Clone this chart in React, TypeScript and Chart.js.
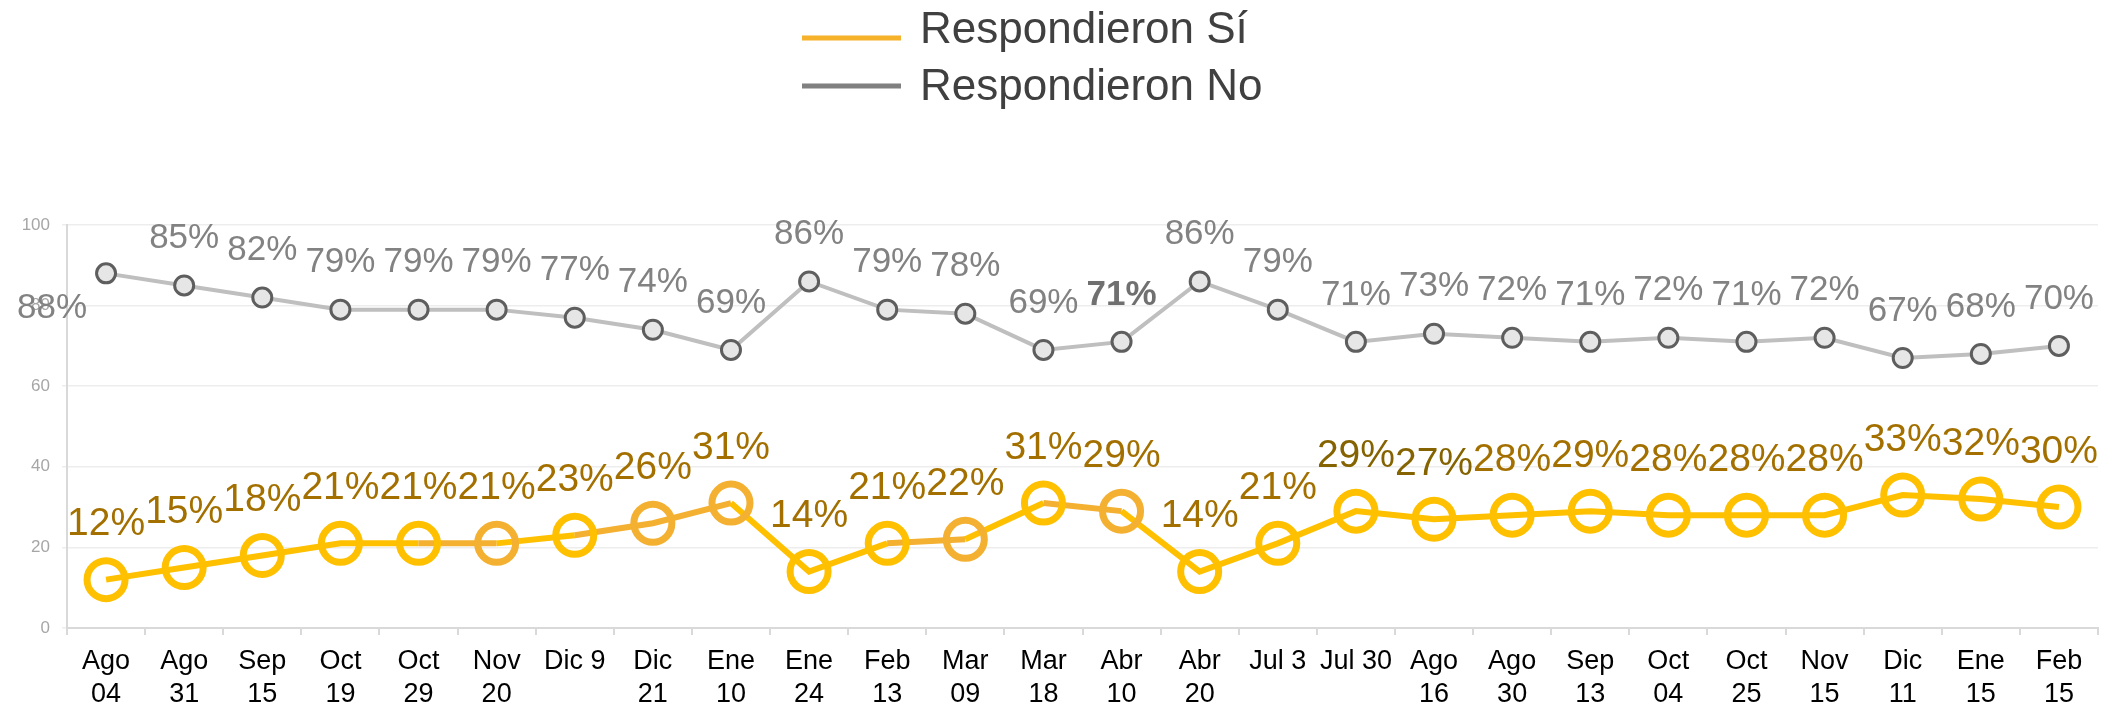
import React, { useEffect, useRef } from 'react';
import { Chart, registerables } from 'chart.js';

Chart.register(...registerables);

const categories: string[][] = [
  ['Ago', '04'], ['Ago', '31'], ['Sep', '15'], ['Oct', '19'], ['Oct', '29'], ['Nov', '20'],
  ['Dic 9'], ['Dic', '21'], ['Ene', '10'], ['Ene', '24'], ['Feb', '13'], ['Mar', '09'],
  ['Mar', '18'], ['Abr', '10'], ['Abr', '20'], ['Jul 3'], ['Jul 30'], ['Ago', '16'],
  ['Ago', '30'], ['Sep', '13'], ['Oct', '04'], ['Oct', '25'], ['Nov', '15'], ['Dic', '11'],
  ['Ene', '15'], ['Feb', '15'],
];

const seriesSi: number[] = [12, 15, 18, 21, 21, 21, 23, 26, 31, 14, 21, 22, 31, 29, 14, 21, 29, 27, 28, 29, 28, 28, 28, 33, 32, 30];
const seriesNo: number[] = [88, 85, 82, 79, 79, 79, 77, 74, 69, 86, 79, 78, 69, 71, 86, 79, 71, 73, 72, 71, 72, 71, 72, 67, 68, 70];

const seriesLabels: string[] = ['Respondieron Sí', 'Respondieron No'];
const yTickValues: number[] = [0, 20, 40, 60, 80, 100];

// styling
const YELLOW = '#FFC000';
const ORANGE = '#F4B030';
const siHighlighted = [5, 7, 8, 11, 13];
const FONT = '"Liberation Sans", Arial, sans-serif';
const NARROW = '"Liberation Sans Narrow", "Arial Narrow", "Liberation Sans", Arial, sans-serif';

const legendPlugin = {
  id: 'customLegend',
  afterDraw(chart: any) {
    const ctx = chart.ctx;
    const rows = [
      { lineY: 38, baseY: 43, color: '#F5B22A' },
      { lineY: 86, baseY: 100, color: '#808080' },
    ];
    chart.data.datasets.forEach((ds: any, i: number) => {
      const r = rows[i];
      ctx.save();
      ctx.strokeStyle = r.color;
      ctx.lineWidth = 5;
      ctx.beginPath();
      ctx.moveTo(802, r.lineY);
      ctx.lineTo(901, r.lineY);
      ctx.stroke();
      ctx.fillStyle = '#404040';
      ctx.font = `44px ${FONT}`;
      ctx.textAlign = 'left';
      ctx.textBaseline = 'alphabetic';
      ctx.fillText(ds.label, 920, r.baseY);
      ctx.restore();
    });
  },
};

const dataLabelPlugin = {
  id: 'dataLabels',
  afterDatasetsDraw(chart: any) {
    const ctx = chart.ctx;
    chart.data.datasets.forEach((ds: any, di: number) => {
      const meta = chart.getDatasetMeta(di);
      meta.data.forEach((pt: any, i: number) => {
        let x = pt.x;
        let y = pt.y - (di === 0 ? 55 : 47);
        if (di === 1 && i === 0) {
          x = pt.x - 54;
          y = pt.y + 35;
        }
        ctx.save();
        if (di === 0) {
          ctx.fillStyle = i === 16 || i === 17 ? '#846300' : '#A37000';
          ctx.font = `39px ${FONT}`;
        } else {
          ctx.fillStyle = i === 13 ? '#707070' : '#828282';
          ctx.font = `${i === 13 ? 'bold ' : ''}35px ${FONT}`;
        }
        ctx.textAlign = 'center';
        ctx.textBaseline = 'middle';
        ctx.fillText(`${ds.data[i]}%`, x, y);
        ctx.restore();
      });
    });
  },
};

export default function App() {
  const canvasRef = useRef<HTMLCanvasElement | null>(null);

  useEffect(() => {
    if (!canvasRef.current) return;
    const chart = new Chart(canvasRef.current, {
      type: 'line',
      data: {
        labels: categories,
        datasets: [
          {
            label: seriesLabels[0],
            data: seriesSi,
            borderColor: YELLOW,
            borderWidth: 6,
            tension: 0,
            pointRadius: 19,
            pointHoverRadius: 19,
            pointBorderWidth: 7,
            pointBackgroundColor: 'rgba(255,255,255,0)',
            pointBorderColor: seriesSi.map((_, i) => (siHighlighted.includes(i) ? ORANGE : YELLOW)),
            segment: {
              borderColor: (c: any) => (siHighlighted.includes(c.p1DataIndex) ? ORANGE : YELLOW),
            },
            clip: false as any,
          },
          {
            label: seriesLabels[1],
            data: seriesNo,
            borderColor: '#BFBFBF',
            borderWidth: 4,
            tension: 0,
            pointRadius: 9.5,
            pointHoverRadius: 9.5,
            pointBorderWidth: 3,
            pointBorderColor: '#5E5E5E',
            pointBackgroundColor: '#E6E6E6',
            clip: false as any,
          },
        ],
      },
      options: {
        animation: false,
        responsive: false,
        maintainAspectRatio: false,
        layout: { padding: { top: 225, left: 0, right: 17, bottom: 0 } },
        plugins: {
          legend: { display: false },
          tooltip: { enabled: false },
        },
        scales: {
          x: {
            type: 'category',
            offset: true,
            afterFit: (s: any) => { s.height = 83; },
            grid: {
              offset: true,
              drawOnChartArea: false,
              drawTicks: true,
              tickLength: 7,
              color: '#D9D9D9',
              lineWidth: 2,
            },
            border: { color: '#D9D9D9', width: 2 },
            ticks: {
              autoSkip: false,
              maxRotation: 0,
              minRotation: 0,
              padding: 10,
              color: '#000000',
              font: { family: NARROW, size: 27, lineHeight: 1.22 },
            },
          },
          y: {
            min: 0,
            max: 100,
            afterFit: (s: any) => { s.width = 67; },
            afterBuildTicks: (s: any) => { s.ticks = yTickValues.map((v) => ({ value: v })); },
            grid: {
              color: '#EDEDED',
              lineWidth: 1.5,
              tickLength: 5,
            },
            border: { color: '#D9D9D9', width: 2 },
            ticks: {
              padding: 12,
              color: '#A6A6A6',
              font: { family: FONT, size: 17 },
            },
          },
        },
      },
      plugins: [dataLabelPlugin, legendPlugin],
    });
    return () => chart.destroy();
  }, []);

  return (
    <div style={{ position: 'absolute', left: 0, top: 0, width: 2124, height: 711, background: '#ffffff' }}>
      <canvas ref={canvasRef} width={2124} height={711} style={{ display: 'block' }} />
    </div>
  );
}
